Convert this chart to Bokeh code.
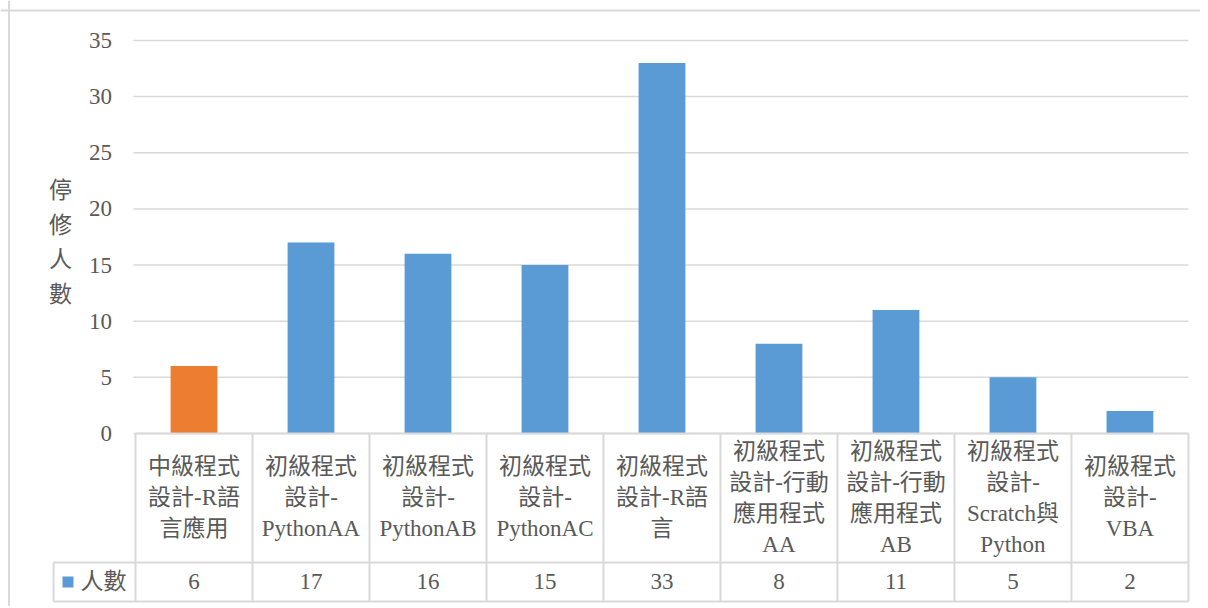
from bokeh.plotting import figure
from bokeh.models import Range1d, Span
from bokeh.core.properties import value
from bokeh.embed import file_html
from bokeh.resources import INLINE

# ---------------- data ----------------
CATEGORIES = ["中級程式設計-R語言應用", "初級程式設計-PythonAA", "初級程式設計-PythonAB",
              "初級程式設計-PythonAC", "初級程式設計-R語言", "初級程式設計-行動應用程式AA",
              "初級程式設計-行動應用程式AB", "初級程式設計-Scratch與Python", "初級程式設計-VBA"]
LABEL_LINES = [["中級程式", "設計-R語", "言應用"],
               ["初級程式", "設計-", "PythonAA"],
               ["初級程式", "設計-", "PythonAB"],
               ["初級程式", "設計-", "PythonAC"],
               ["初級程式", "設計-R語", "言"],
               ["初級程式", "設計-行動", "應用程式", "AA"],
               ["初級程式", "設計-行動", "應用程式", "AB"],
               ["初級程式", "設計-", "Scratch與", "Python"],
               ["初級程式", "設計-", "VBA"]]
COUNTS = [6, 17, 16, 15, 33, 8, 11, 5, 2]
SERIES_NAME = "人數"
Y_TITLE = "停修人數"
Y_TICKS = [0, 5, 10, 15, 20, 25, 30, 35]

# ---------------- style ----------------
BLUE = "#5B9BD5"
ORANGE = "#ED7D31"
HIGHLIGHT = 0
GRID = "#d9d9d9"
TXT = "#595959"
FONT = value("Liberation Serif, Noto Sans CJK TC")
FS = "23px"

X0, X1 = -1.654, 8.603
Y0, Y1 = -15.41, 38.56
BORDER_X = -1.581
BORDER_Y = 37.67
HDR = -11.49        # bottom of header row of table
ROWB = -14.96       # bottom of value row
LEG_L = -1.2        # left edge of legend cell
TICK_X = -0.70
TITLE_X = -1.141
LINE_STEP = 2.76
GRID_L = -0.517

n = len(CATEGORIES)
xs = list(range(n))
colors = [ORANGE if i == HIGHLIGHT else BLUE for i in xs]

p = figure(width=1200, height=606, x_range=Range1d(X0, X1), y_range=Range1d(Y0, Y1),
           output_backend="svg", toolbar_location=None, x_axis_type=None, y_axis_type=None,
           min_border=0, outline_line_color=None, background_fill_color="white")

# chart border (left and top)
p.add_layout(Span(location=BORDER_X, dimension="height", line_color=GRID, line_width=2))
p.add_layout(Span(location=BORDER_Y, dimension="width", line_color=GRID, line_width=2))

# gridlines
p.segment(x0=[GRID_L] * len(Y_TICKS), x1=[n - 0.5] * len(Y_TICKS), y0=Y_TICKS, y1=Y_TICKS,
          line_color=GRID, line_width=1.5)

# tick labels
p.text(x=[TICK_X] * len(Y_TICKS), y=Y_TICKS, text=[str(t) for t in Y_TICKS],
       text_align="right", text_baseline="middle", text_font=FONT, text_font_size=FS,
       text_color=TXT)

# y title stacked characters
chars = list(Y_TITLE)
mid = 17.0
ty = [mid + (len(chars) - 1) / 2 * 3.1 - k * 3.1 for k in range(len(chars))]
p.text(x=[TITLE_X] * len(chars), y=ty, text=chars, text_align="center", text_baseline="middle",
       text_font=FONT, text_font_size=FS, text_color=TXT)

# bars
p.vbar(x=xs, top=COUNTS, bottom=0, width=0.40, fill_color=colors, line_color=None)

# table lines
vx = [i - 0.5 for i in range(n + 1)]
p.segment(x0=vx, x1=vx, y0=[0] * len(vx), y1=[ROWB] * len(vx), line_color=GRID, line_width=2)
p.segment(x0=[LEG_L], x1=[LEG_L], y0=[HDR], y1=[ROWB], line_color=GRID, line_width=2)
p.segment(x0=[-0.5, LEG_L, LEG_L], x1=[n - 0.5] * 3, y0=[0, HDR, ROWB], y1=[0, HDR, ROWB],
          line_color=GRID, line_width=2)

# header labels
lx, ly, lt = [], [], []
hc = HDR / 2
for i, lines in enumerate(LABEL_LINES):
    m = len(lines)
    for k, s in enumerate(lines):
        lx.append(i)
        ly.append(hc + (m - 1) / 2 * LINE_STEP - k * LINE_STEP)
        lt.append(s)
p.text(x=lx, y=ly, text=lt, text_align="center", text_baseline="middle",
       text_font=FONT, text_font_size=FS, text_color=TXT)

# value row
rc = (HDR + ROWB) / 2
p.text(x=xs, y=[rc] * n, text=[str(v) for v in COUNTS], text_align="center",
       text_baseline="middle", text_font=FONT, text_font_size=FS, text_color=TXT)

# legend key in table
p.scatter(x=[-1.077], y=[rc], marker="square", size=11, fill_color=BLUE, line_color=None)
p.text(x=[-0.97], y=[rc], text=[SERIES_NAME], text_align="left", text_baseline="middle",
       text_font=FONT, text_font_size=FS, text_color=TXT)

open("out.html", "w").write(file_html(p, INLINE))
